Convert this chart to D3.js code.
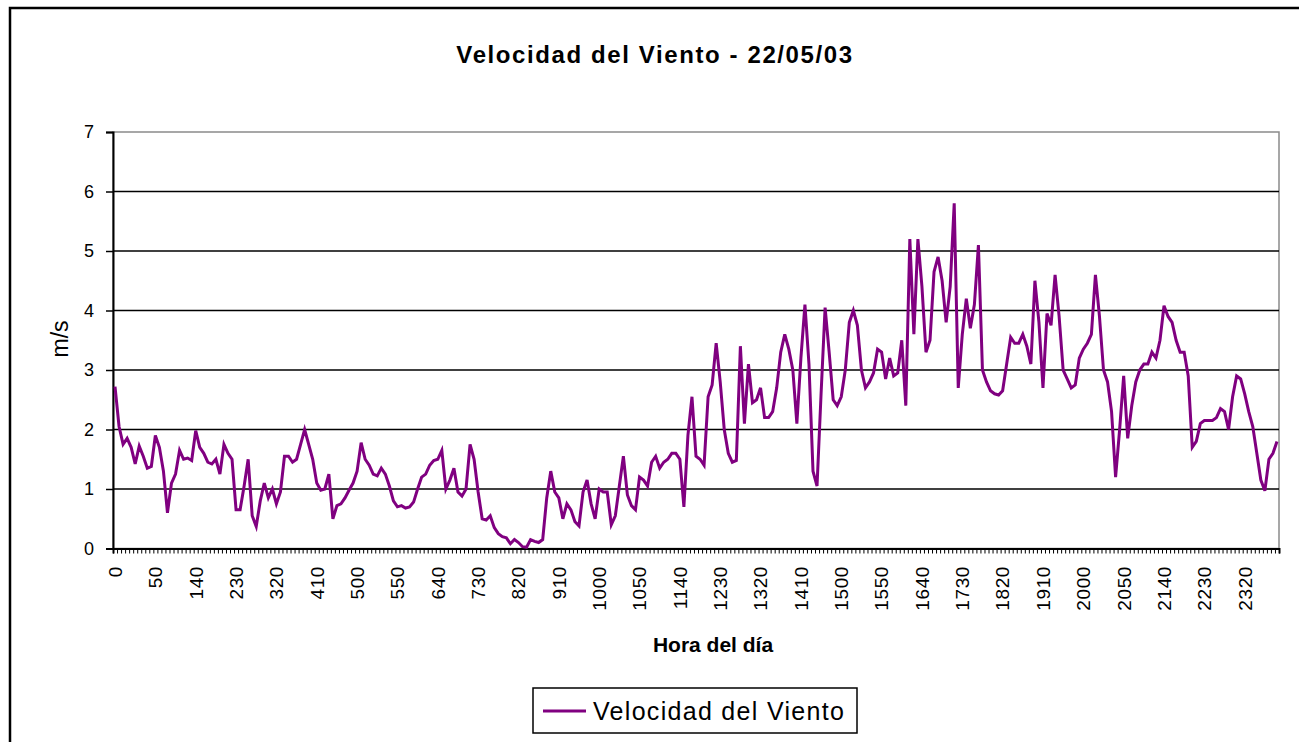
<!DOCTYPE html>
<html>
<head>
<meta charset="utf-8">
<script src="https://cdn.jsdelivr.net/npm/d3@7"></script>
<style>
  body { margin: 0; background: #fff; }
  svg { display: block; }
  text { font-family: "Liberation Sans", Arial, sans-serif; fill: #000; }
</style>
</head>
<body>
<svg id="chart" width="1299" height="742"></svg>
<script>
// Wind speed (m/s) sampled every 5 minutes, 00:00 to 24:00
const windSpeed = [
  2.72, 2.05, 1.75, 1.85, 1.7, 1.42, 1.72, 1.55, 1.35, 1.38,
  1.9, 1.7, 1.3, 0.6, 1.1, 1.25, 1.65, 1.5, 1.52, 1.48,
  1.98, 1.7, 1.6, 1.45, 1.42, 1.5, 1.25, 1.75, 1.6, 1.5,
  0.65, 0.65, 1.05, 1.5, 0.55, 0.37, 0.8, 1.1, 0.85, 1.0,
  0.75, 0.95, 1.55, 1.55, 1.45, 1.5, 1.75, 2.0, 1.75, 1.5,
  1.1, 0.98, 1.0, 1.25, 0.5, 0.72, 0.75, 0.85, 0.98, 1.1,
  1.3, 1.78, 1.5, 1.4, 1.25, 1.22, 1.35, 1.25, 1.05, 0.8,
  0.7, 0.72, 0.68, 0.7, 0.78, 1.0, 1.2, 1.25, 1.4, 1.48,
  1.5, 1.65, 1.0, 1.15, 1.35, 0.95, 0.88, 1.0, 1.75, 1.5,
  0.95, 0.5, 0.48, 0.55, 0.35, 0.25, 0.2, 0.18, 0.08, 0.15,
  0.1, 0.03, 0.02, 0.15, 0.12, 0.1, 0.15, 0.85, 1.3, 0.95,
  0.85, 0.5, 0.75, 0.65, 0.45, 0.38, 0.95, 1.15, 0.75, 0.5,
  1.0, 0.95, 0.95, 0.4, 0.55, 1.05, 1.55, 0.9, 0.72, 0.65,
  1.2, 1.15, 1.05, 1.45, 1.55, 1.35, 1.45, 1.5, 1.6, 1.6,
  1.5, 0.7, 1.9, 2.55, 1.55, 1.5, 1.4, 2.55, 2.75, 3.45,
  2.8, 2.0, 1.6, 1.45, 1.48, 3.4, 2.1, 3.1, 2.45, 2.5,
  2.7, 2.2, 2.2, 2.3, 2.7, 3.3, 3.6, 3.35, 3.0, 2.1,
  3.2, 4.1, 3.1, 1.3, 1.05, 2.6, 4.05, 3.3, 2.5, 2.4,
  2.55, 3.0, 3.8, 4.0, 3.75, 3.0, 2.7, 2.8, 2.95, 3.35,
  3.3, 2.85, 3.2, 2.9, 2.95, 3.5, 2.4, 5.2, 3.6, 5.2,
  4.4, 3.3, 3.5, 4.65, 4.9, 4.5, 3.8, 4.4, 5.8, 2.7,
  3.6, 4.2, 3.7, 4.1, 5.1, 3.0, 2.8, 2.65, 2.6, 2.58,
  2.65, 3.1, 3.55, 3.45, 3.45, 3.6, 3.4, 3.1, 4.5, 3.8,
  2.7, 3.95, 3.75, 4.6, 3.9, 3.0, 2.85, 2.7, 2.75, 3.2,
  3.35, 3.45, 3.6, 4.6, 3.9, 3.0, 2.8, 2.3, 1.2, 2.0,
  2.9, 1.85, 2.4, 2.8, 3.0, 3.1, 3.1, 3.3, 3.2, 3.5,
  4.08, 3.9, 3.8, 3.5, 3.3, 3.3, 2.9, 1.7, 1.8, 2.1,
  2.15, 2.15, 2.15, 2.2, 2.35, 2.3, 2.0, 2.55, 2.9, 2.85,
  2.6, 2.3, 2.05, 1.6, 1.15, 0.97, 1.5, 1.6, 1.8
];

// Category labels shown every 10 samples (every 50 minutes, HMM)
const tickLabels = [
  "0", "50", "140", "230", "320", "410", "500", "550", "640", "730",
  "820", "910", "1000", "1050", "1140", "1230", "1320", "1410", "1500", "1550",
  "1640", "1730", "1820", "1910", "2000", "2050", "2140", "2230", "2320"
];
const labelStep = 10;

const yTicks = [0, 1, 2, 3, 4, 5, 6, 7];

const titleText = "Velocidad del Viento - 22/05/03";
const xTitle = "Hora del día";
const yTitle = "m/s";
const seriesName = "Velocidad del Viento";
const lineColor = "#800080";

const svg = d3.select("#chart");
const W = 1299, H = 742;
const plot = { left: 113, right: 1279, top: 132, bottom: 548.5 };

svg.append("rect").attr("width", W).attr("height", H).attr("fill", "#fff");

// chart area frame
svg.append("rect")
  .attr("x", 10).attr("y", 8)
  .attr("width", W + 20).attr("height", H + 20)
  .attr("fill", "none").attr("stroke", "#000").attr("stroke-width", 2.5);

const n = windSpeed.length;
const x = d3.scaleLinear().domain([0, n]).range([plot.left, plot.right]);
const y = d3.scaleLinear().domain([0, 7]).range([plot.bottom, plot.top]);

// plot area border
svg.append("rect")
  .attr("x", plot.left).attr("y", plot.top)
  .attr("width", plot.right - plot.left).attr("height", plot.bottom - plot.top)
  .attr("fill", "#fff").attr("stroke", "#8a8a8a").attr("stroke-width", 1.5);

// horizontal gridlines
svg.append("g")
  .selectAll("line")
  .data(yTicks.filter(v => v > 0 && v < 7))
  .join("line")
  .attr("x1", plot.left).attr("x2", plot.right)
  .attr("y1", d => y(d)).attr("y2", d => y(d))
  .attr("stroke", "#000").attr("stroke-width", 1.4);

// y axis
const yAxis = svg.append("g")
  .attr("transform", `translate(${plot.left},0)`)
  .call(d3.axisLeft(y).tickValues(yTicks).tickSize(7).tickPadding(12).tickFormat(d3.format("d")));
yAxis.select(".domain").attr("stroke", "#000").attr("stroke-width", 2);
yAxis.selectAll(".tick line").attr("stroke", "#000").attr("stroke-width", 1.5);
yAxis.selectAll(".tick text").attr("font-size", 18).attr("font-family", "Liberation Sans, Arial, sans-serif");

// x axis: a tick mark at every category boundary
const xAxis = svg.append("g")
  .attr("transform", `translate(0,${plot.bottom})`)
  .call(d3.axisBottom(x).tickValues(d3.range(0, n + 1)).tickSize(5).tickFormat(""));
xAxis.select(".domain").attr("stroke", "#000").attr("stroke-width", 2);
xAxis.selectAll(".tick line").attr("stroke", "#000").attr("stroke-width", 1);

// x category labels, rotated
svg.append("g")
  .selectAll("text")
  .data(tickLabels)
  .join("text")
  .attr("transform", (d, i) => `translate(${x(i * labelStep + 0.5)},566) rotate(-90)`)
  .attr("text-anchor", "end")
  .attr("dy", "0.36em")
  .attr("font-size", 19)
  .attr("letter-spacing", 0.6)
  .text(d => d);

// data line
const line = d3.line()
  .x((d, i) => x(i + 0.5))
  .y(d => y(d));
svg.append("path")
  .datum(windSpeed)
  .attr("d", line)
  .attr("fill", "none")
  .attr("stroke", lineColor)
  .attr("stroke-width", 3)
  .attr("stroke-linejoin", "miter");

// titles
svg.append("text")
  .attr("x", 655).attr("y", 63)
  .attr("text-anchor", "middle")
  .attr("font-size", 24).attr("font-weight", "bold")
  .attr("letter-spacing", 1.6)
  .text(titleText);

svg.append("text")
  .attr("x", 713).attr("y", 652)
  .attr("text-anchor", "middle")
  .attr("font-size", 21).attr("font-weight", "bold")
  .text(xTitle);

svg.append("text")
  .attr("transform", "translate(68,339) rotate(-90)")
  .attr("text-anchor", "middle")
  .attr("font-size", 23)
  .text(yTitle);

// legend
const legend = svg.append("g");
legend.append("rect")
  .attr("x", 533).attr("y", 688).attr("width", 324).attr("height", 45)
  .attr("fill", "#fff").attr("stroke", "#000").attr("stroke-width", 1.5);
legend.append("line")
  .attr("x1", 543).attr("x2", 586).attr("y1", 711).attr("y2", 711)
  .attr("stroke", lineColor).attr("stroke-width", 3);
legend.append("text")
  .attr("x", 593).attr("y", 711).attr("dy", "0.35em")
  .attr("font-size", 25)
  .attr("letter-spacing", 1.3)
  .text(seriesName);
</script>
</body>
</html>
